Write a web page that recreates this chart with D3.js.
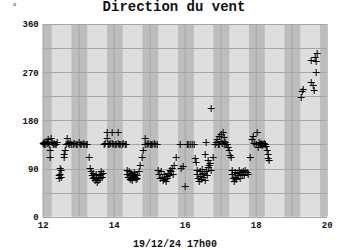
<!DOCTYPE html>
<meta charset="utf-8">
<style>
body { margin: 0; background: #fff; }
text { font-family: 'Liberation Mono', 'Courier New', monospace; font-weight: bold; fill: #111; }
</style>
<body>
<div id="chart"></div>
<script src="https://d3js.org/d3.v7.min.js"></script>
<script>

// time in days (day of month), wind direction in degrees
var times = [
  12.00, 12.02, 12.04, 12.07, 12.09, 12.11, 12.13, 12.15, 12.17, 12.19, 12.21, 12.23, 12.25, 12.27, 12.30, 12.33, 12.36, 12.40,
  12.44, 12.45, 12.47, 12.48, 12.50, 12.52, 12.58, 12.60, 12.63, 12.66, 12.67,
  12.70, 12.73, 12.76, 12.80, 12.84, 12.88, 12.92, 12.96, 13.00, 13.04, 13.08, 13.12, 13.16, 13.20, 13.24,
  13.29, 13.32, 13.36, 13.38, 13.40, 13.42, 13.44, 13.46, 13.48, 13.50, 13.52, 13.54, 13.56, 13.58, 13.60, 13.62, 13.64, 13.66, 13.68,
  13.72, 13.76, 13.79, 13.81, 13.83, 13.86, 13.90, 13.93, 13.95, 13.98, 14.02, 14.06, 14.10, 14.12, 14.14, 14.18, 14.22, 14.26, 14.30, 14.34,
  14.36, 14.38, 14.40, 14.42, 14.44, 14.46, 14.48, 14.50, 14.52, 14.54, 14.56, 14.58, 14.60, 14.62, 14.64, 14.66, 14.70, 14.74, 14.79, 14.83, 14.87,
  14.88, 14.92, 14.96, 15.00, 15.04, 15.08, 15.12, 15.16, 15.20,
  15.25, 15.28, 15.30, 15.33, 15.36, 15.38, 15.40, 15.43, 15.46, 15.48, 15.50, 15.53, 15.56, 15.58, 15.60, 15.62, 15.66, 15.70, 15.76,
  15.86, 15.90, 15.93, 16.01,
  16.05, 16.08, 16.15, 16.20, 16.24,
  16.29, 16.31, 16.33, 16.35, 16.37, 16.39, 16.41, 16.43, 16.45, 16.47, 16.49, 16.51, 16.53, 16.55, 16.57, 16.58, 16.60, 16.62, 16.64, 16.66, 16.67, 16.70, 16.72, 16.73,
  16.80, 16.85, 16.88, 16.90, 16.92, 16.95, 16.97, 17.00, 17.02, 17.05, 17.07, 17.09, 17.11, 17.13, 17.15, 17.18, 17.22, 17.25, 17.28, 17.30,
  17.31, 17.33, 17.36, 17.38, 17.40, 17.42, 17.45, 17.47, 17.49, 17.52, 17.55, 17.57, 17.60, 17.63, 17.66, 17.70, 17.74, 17.78,
  17.84, 17.88, 17.92, 17.95, 18.00, 18.03, 18.05, 18.08, 18.10, 18.12, 18.14, 18.16, 18.18, 18.20, 18.22, 18.24, 18.26, 18.28, 18.31, 18.33, 18.35, 18.37,
  19.28, 19.32, 19.30, 19.56, 19.61, 19.62, 19.56, 19.65, 19.68, 19.68, 19.72
];
var dirs = [
  138, 140, 136, 135, 142, 138, 145, 140, 136, 125, 112, 147, 140, 135, 138, 136, 135, 140,
  72, 78, 80, 91, 88, 75, 112, 118, 125, 135, 147,
  138, 135, 140, 136, 135, 138, 135, 136, 140, 136, 135, 138, 135, 136, 135,
  112, 91, 85, 78, 72, 82, 75, 68, 80, 70, 65, 75, 68, 78, 72, 80, 85, 75, 82,
  135, 138, 159, 147, 136, 135, 138, 159, 138, 135, 136, 135, 138, 159, 135, 136, 135, 138, 135, 136,
  88, 80, 75, 85, 70, 78, 82, 72, 68, 76, 84, 74, 80, 70, 78, 72, 85, 97, 112, 125, 147,
  136, 135, 138, 135, 136, 135, 138, 136, 135,
  88, 80, 72, 85, 75, 68, 80, 70, 66, 76, 72, 82, 78, 88, 85, 91, 80, 97, 112,
  135, 91, 94, 57,
  135, 136, 135, 136, 135,
  110, 102, 88, 80, 72, 66, 85, 76, 70, 80, 90, 74, 82, 68, 117, 139, 86, 78, 92, 106, 97, 100, 88, 203,
  112, 135, 140, 145, 136, 150, 135, 142, 155, 138, 159, 135, 148, 140, 136, 135, 130, 125, 116, 112,
  88, 80, 72, 66, 84, 75, 70, 82, 78, 88, 72, 84, 80, 86, 78, 88, 84, 80,
  112, 145, 150, 138, 135, 159, 131, 140, 136, 135, 138, 134, 136, 135, 137, 135, 136, 133, 124, 118, 110, 106,
  224, 239, 235, 252, 246, 237, 293, 299, 290, 271, 305
];
var xTicks = [12, 14, 16, 18, 20];
var yTicks = [0, 90, 180, 270, 360];
var nightBands = [[12, 12.255], [12.81, 13.255], [13.81, 14.255], [14.81, 15.255], [15.81, 16.255],
                  [16.81, 17.255], [17.81, 18.255], [18.81, 19.255], [19.81, 20]];
var title = "Direction du vent";
var stamp = "19/12/24 17h00";

var width = 350, height = 250,
    margin = {top: 24, right: 23.3, bottom: 33.3, left: 42.7};
var w = width - margin.left - margin.right,
    h = height - margin.top - margin.bottom;

var svg = d3.select("#chart").append("svg")
    .attr("width", width)
    .attr("height", height);

var g = svg.append("g")
    .attr("transform", `translate(${margin.left},${margin.top})`);

var x = d3.scaleLinear().domain([12, 20]).range([0, w]);
var y = d3.scaleLinear().domain([0, 360]).range([h, 0]);

// plot background
g.append("rect")
    .attr("width", w).attr("height", h)
    .attr("fill", "#dedede");

// night bands
g.selectAll(".night")
    .data(nightBands)
    .enter().append("rect")
    .attr("class", "night")
    .attr("x", d => x(d[0]))
    .attr("width", d => x(d[1]) - x(d[0]))
    .attr("y", 0).attr("height", h)
    .attr("fill", "#bdbdbd");

// grid
g.selectAll(".vgrid")
    .data(d3.range(12, 21))
    .enter().append("line")
    .attr("x1", d => Math.round(x(d)) + 0.5).attr("x2", d => Math.round(x(d)) + 0.5)
    .attr("y1", 0).attr("y2", h)
    .attr("stroke", "#a6a6a6");

g.selectAll(".hgrid")
    .data(d3.range(0, 361, 45))
    .enter().append("line")
    .attr("y1", d => Math.round(y(d)) + 0.5).attr("y2", d => Math.round(y(d)) + 0.5)
    .attr("x1", 0).attr("x2", w)
    .attr("stroke", "#a6a6a6");

// axes labels
var yAxis = d3.axisLeft(y).tickValues(yTicks).tickSize(0).tickPadding(4);
g.append("g").call(yAxis)
  .call(s => s.select(".domain").remove())
  .selectAll("text")
    .style("font-size", "9px")
    .attr("fill", "#111");

var xAxis = d3.axisBottom(x).tickValues(xTicks).tickSize(0).tickPadding(5);
g.append("g").attr("transform", `translate(0,${h})`).call(xAxis)
  .call(s => s.select(".domain").remove())
  .selectAll("text")
    .style("font-size", "9px")
    .attr("fill", "#111");

// data crosses
g.selectAll(".pt")
    .data(times.map((t, i) => [t, dirs[i]]))
    .enter().append("path")
    .attr("class", "pt")
    .attr("transform", d => `translate(${Math.round(x(d[0])) + 0.5},${Math.round(y(d[1])) + 0.5})`)
    .attr("d", "M-3.5,0H3.5M0,-3.5V3.5")
    .attr("stroke", "#000")
    .attr("stroke-width", 1)
    .attr("fill", "none");

// titles
svg.append("text")
    .attr("x", 174).attr("y", 11)
    .attr("text-anchor", "middle")
    .style("font-size", "14px")
    .text(title);

svg.append("text")
    .attr("x", 12).attr("y", 9)
    .style("font-size", "9px")
    .style("font-weight", "normal")
    .text("°");

svg.append("text")
    .attr("x", 175).attr("y", 247)
    .attr("text-anchor", "middle")
    .style("font-size", "10px")
    .text(stamp);

</script>
</body>
